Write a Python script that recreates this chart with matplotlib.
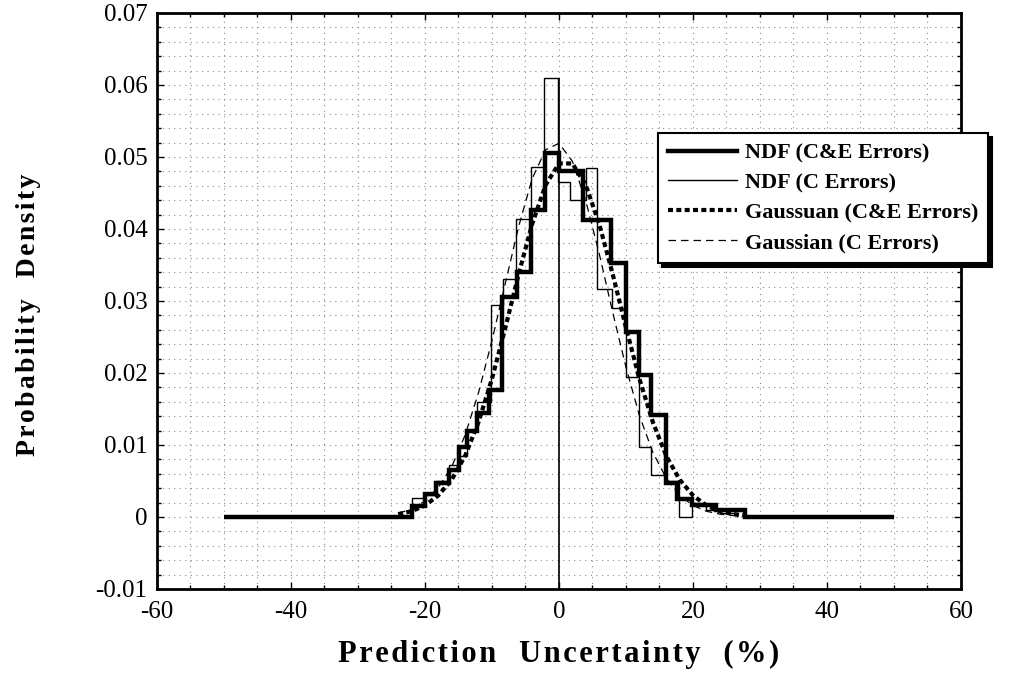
import numpy as np
import matplotlib
matplotlib.use("Agg")
import matplotlib.pyplot as plt

plt.rcParams["font.family"] = ["Liberation Serif", "DejaVu Serif"]

# NDF (C&E errors) histogram, bin edges in % and densities
ndf_ce_edges = [-50, -22, -20, -18.3, -16.4, -14.9, -13.8, -12.2, -10.4, -8.5,
                -6.3, -4.2, -2.1, 0, 3.6, 7.7, 10.0, 11.9, 13.8, 15.9,
                17.6, 19.8, 23.4, 27.8, 50]
ndf_ce_dens = [0, 0.0015, 0.0032, 0.0047, 0.0065, 0.0097, 0.0120, 0.0144,
               0.0176, 0.0306, 0.0340, 0.0426, 0.0505, 0.0480, 0.0412, 0.0353,
               0.0257, 0.0197, 0.0142, 0.0047, 0.0025, 0.0017, 0.0010, 0]

# NDF (C errors) histogram
ndf_c_edges = [-22, -20, -18.3, -16.4, -14.9, -13.8, -12.2, -10.2, -8.3,
               -6.4, -4.2, -2.3, -0.2, 1.6, 4.0, 5.7, 7.9, 10.0, 11.9,
               13.8, 15.9, 17.9, 19.8, 22.0, 24.0, 26.5]
ndf_c_dens = [0.0026, 0.0030, 0.0050, 0.0072, 0.0085, 0.0120, 0.0160,
              0.0295, 0.0330, 0.0414, 0.0486, 0.0610, 0.0465, 0.0440, 0.0485,
              0.0317, 0.0290, 0.0195, 0.0097, 0.0058, 0.0050, 0.0,
              0.0020, 0.0010, 0.0005]

# Gaussian fits
gauss_x = [-24, -22, -20, -18, -16, -14, -12, -10, -8, -6, -4, -2, 0,
           2, 4, 6, 8, 10, 12, 14, 16, 18, 20, 22, 24, 26, 28]
gauss_ce = [0.0004, 0.0008, 0.0016, 0.0030, 0.0052, 0.0085, 0.0132, 0.0192,
            0.0263, 0.0338, 0.0407, 0.0461, 0.0491, 0.0491, 0.0461, 0.0407,
            0.0338, 0.0263, 0.0192, 0.0132, 0.0085, 0.0052, 0.0030, 0.0016,
            0.0008, 0.0004, 0.0002]
gauss_c = [0.0005, 0.0011, 0.0022, 0.0041, 0.0070, 0.0114, 0.0173, 0.0245,
           0.0325, 0.0404, 0.0470, 0.0510, 0.0519, 0.0494, 0.0439, 0.0366,
           0.0285, 0.0208, 0.0141, 0.0090, 0.0054, 0.0030, 0.0016, 0.0008,
           0.0004, 0.0002, 0.0001]


def spaced(text, sep="\u200a"):
    # wide letter spacing like the scanned original
    return sep.join(text)


fig = plt.figure(figsize=(10.22, 6.76), dpi=100)
ax = fig.add_axes([0.1536, 0.1287, 0.7867, 0.8521])

ax.set_xlim(-60, 60)
ax.set_ylim(-0.01, 0.07)
ax.set_xticks(np.arange(-60, 61, 20))
ax.set_xticks(np.arange(-60, 61, 5), minor=True)
ax.set_yticks(np.arange(-0.01, 0.0701, 0.01))
ax.set_yticks(np.arange(-0.01, 0.0701, 0.002), minor=True)
ax.set_xticklabels([f"{v:d}" for v in range(-60, 61, 20)])
ax.set_yticklabels(["-0.01", "0", "0.01", "0.02", "0.03", "0.04",
                    "0.05", "0.06", "0.07"])

ax.grid(which="both", color="0.55", linestyle=(0, (1, 4)), linewidth=0.8)
ax.tick_params(which="both", direction="in", top=True, right=True,
               labelsize=18, width=1.0)
ax.tick_params(which="major", length=5)
ax.tick_params(axis="x", which="major", pad=9)
ax.tick_params(axis="y", which="major", pad=7)
ax.tick_params(which="minor", length=3)
for sp in ax.spines.values():
    sp.set_linewidth(2.0)

# axis line through x = 0
ax.vlines(0, -0.01, max(ndf_c_dens), color="black", linewidth=1.2)

ax.stairs(ndf_c_dens, ndf_c_edges, color="black", linewidth=1.0,
          label="NDF (C Errors)", zorder=3)
ax.stairs(ndf_ce_dens, ndf_ce_edges, color="black", linewidth=3.2,
          label="NDF (C&E Errors)", zorder=4)
ax.plot(gauss_x, gauss_ce, color="black", linewidth=3.0,
        linestyle=(0, (1.2, 0.8)), label="Gaussuan (C&E Errors)", zorder=5)
ax.plot(gauss_x, gauss_c, color="black", linewidth=0.9,
        linestyle=(0, (6, 4)), label="Gaussian (C Errors)", zorder=5)

handles, labels = ax.get_legend_handles_labels()
order = [labels.index(l) for l in ["NDF (C&E Errors)", "NDF (C Errors)",
                                   "Gaussuan (C&E Errors)", "Gaussian (C Errors)"]]
leg = ax.legend([handles[i] for i in order], [labels[i] for i in order],
                loc="upper left", bbox_to_anchor=(0.623, 0.792),
                frameon=True, fancybox=False, edgecolor="black",
                framealpha=1, borderaxespad=0, handlelength=3.1,
                handletextpad=0.35, labelspacing=0.42, borderpad=0.45,
                prop={"size": 16, "weight": "bold"},
                shadow={"color": "black", "alpha": 1, "ox": 3, "oy": -3})
leg.get_frame().set_linewidth(1.5)
leg.set_zorder(10)

ax.set_xlabel(spaced("Prediction") + "   " + spaced("Uncertainty") + "   " + spaced("(%)"),
              fontsize=22, fontweight="bold", labelpad=12)
ax.set_ylabel(spaced("Probability") + "   " + spaced("Density"),
              fontsize=20, fontweight="bold")
ax.yaxis.set_label_coords(-0.144, 0.476)

fig.savefig("out.png", dpi=100)
